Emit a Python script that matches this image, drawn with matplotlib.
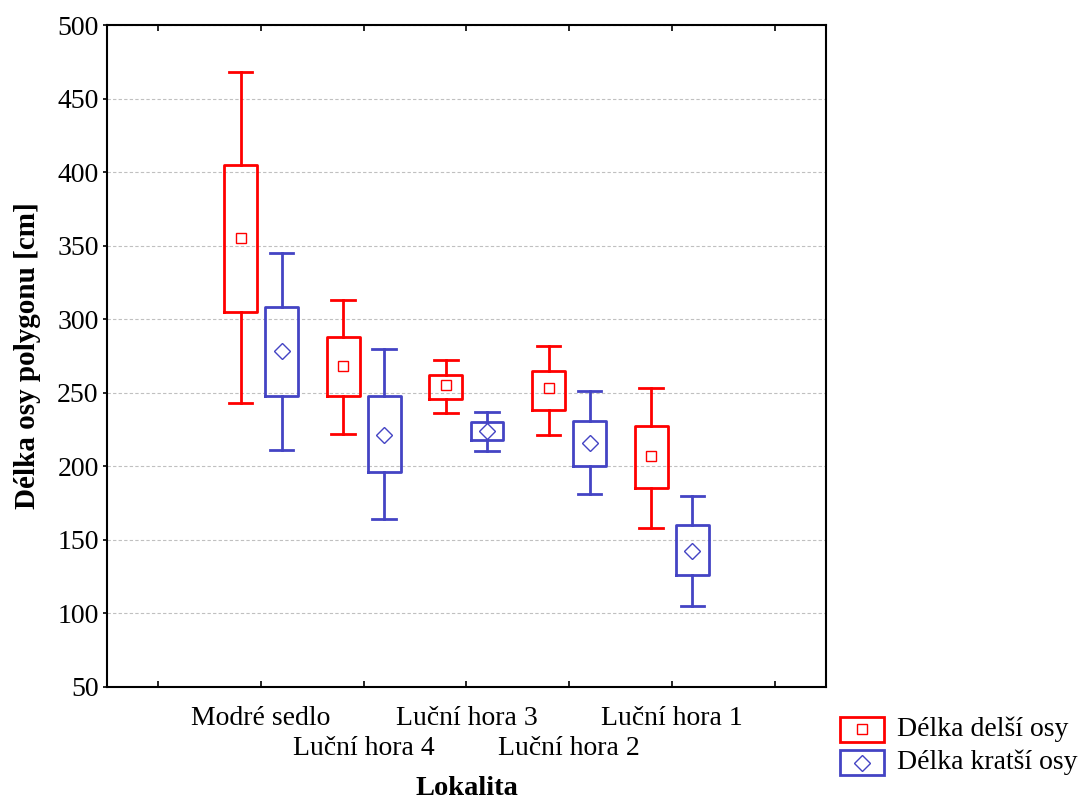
import matplotlib
matplotlib.use("Agg")
import matplotlib.pyplot as plt
from matplotlib.patches import Rectangle
from matplotlib.lines import Line2D

plt.rcParams['font.family'] = ['Liberation Serif', 'DejaVu Serif']

# data (cm)
sites = ['Modré sedlo', 'Luční hora 4', 'Luční hora 3', 'Luční hora 2', 'Luční hora 1']
# delsi osa (red)
long_mean = [355, 268, 255, 253, 207]
long_q1 = [305, 248, 246, 238, 185]
long_q3 = [405, 288, 262, 265, 227]
long_lo = [243, 222, 236, 221, 158]
long_hi = [468, 313, 272, 282, 253]
# kratsi osa (blue)
short_mean = [278, 221, 224, 216, 142]
short_q1 = [248, 196, 218, 200, 126]
short_q3 = [308, 248, 230, 231, 160]
short_lo = [211, 164, 210, 181, 105]
short_hi = [345, 280, 237, 251, 180]

red = '#ff0000'
blue = '#4444c4'

fig = plt.figure(figsize=(10.81, 8.07), dpi=100)
ax = fig.add_axes([0.099, 0.149, 0.665, 0.82])


def stats(mean, q1, q3, lo, hi):
    out = []
    for m, a, b, l, h in zip(mean, q1, q3, lo, hi):
        out.append(dict(med=m, mean=m, q1=a, q3=b, whislo=l, whishi=h, fliers=[]))
    return out


pos = list(range(1, len(sites) + 1))
for st, off, col, mk, ms in [(stats(long_mean, long_q1, long_q3, long_lo, long_hi), -0.2, red, 's', 7.3),
                            (stats(short_mean, short_q1, short_q3, short_lo, short_hi), 0.2, blue, 'D', 8.5)]:
    ax.bxp(st, positions=[p + off for p in pos], widths=0.32, capwidths=0.23,
           showmeans=True, showfliers=False,
           boxprops=dict(color=col, linewidth=2),
           whiskerprops=dict(color=col, linewidth=2),
           capprops=dict(color=col, linewidth=2),
           medianprops=dict(linewidth=0),
           meanprops=dict(marker=mk, markerfacecolor='none', markeredgecolor=col,
                          markersize=ms, markeredgewidth=1))

ax.set_xlim(-0.5, 6.5)
ax.set_ylim(50, 500)
ax.set_yticks(range(50, 501, 50))
ax.yaxis.grid(True, linestyle=(0, (3, 2)), color='#c0c0c0', linewidth=0.8)
ax.set_axisbelow(True)

# staggered category labels: 1st/3rd/5th as tick labels, 2nd/4th one row lower
ax.set_xticks(range(0, 7))
ax.set_xticklabels([''] + [s if i % 2 == 0 else '' for i, s in enumerate(sites)] + [''], fontsize=20)
for p, s in zip(pos[1::2], sites[1::2]):
    ax.text(p, -0.094, s, transform=ax.get_xaxis_transform(), fontsize=20,
            ha='center', va='center')
ax.tick_params(axis='x', direction='in', length=4, width=1.2, pad=14, top=True)
ax.tick_params(axis='y', direction='out', length=3, width=1.2, labelsize=20, pad=3)
for s in ax.spines.values():
    s.set_linewidth(1.5)

ax.set_ylabel('Délka osy polygonu [cm]', fontsize=21, fontweight='bold', labelpad=12)
fig.text(0.4315, 0.008, 'Lokalita', fontsize=20.5, fontweight='bold', ha='center', va='bottom')

# legend drawn by hand, Statistica style
leg = [('Délka delší osy', red, 's', 7.3), ('Délka kratší osy', blue, 'D', 8.5)]
for i, (txt, col, mk, ms) in enumerate(leg):
    y0 = 1 - (741.5 + i * 33.5) / 807
    fig.patches.append(Rectangle((840 / 1081, y0), 44 / 1081, 25 / 807, transform=fig.transFigure,
                                 fill=False, edgecolor=col, linewidth=2))
    fig.lines.append(Line2D([862 / 1081], [y0 + 12.5 / 807], transform=fig.transFigure, marker=mk,
                            markerfacecolor='none', markeredgecolor=col, markersize=ms, markeredgewidth=1))
    fig.text(897 / 1081, y0 + 12.5 / 807, txt, fontsize=20, va='center', ha='left')

fig.savefig('out.png', dpi=100)
